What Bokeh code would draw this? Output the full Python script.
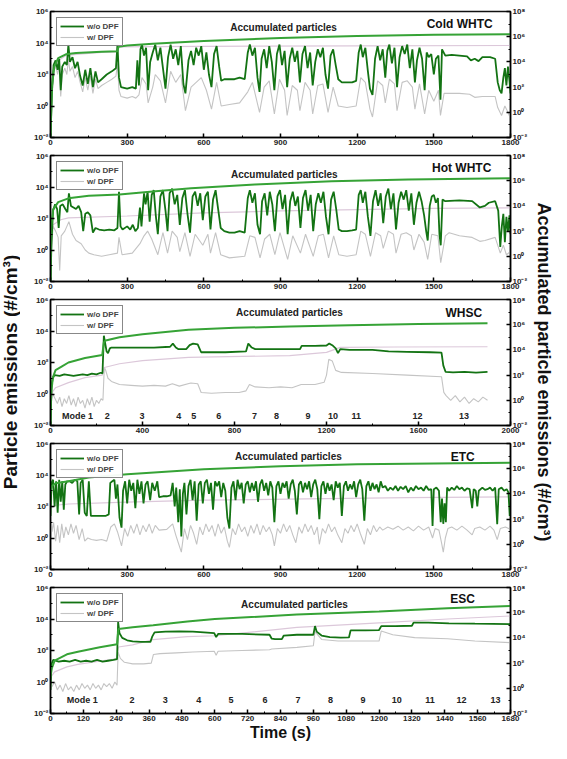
import math
import numpy as np
from bokeh.plotting import figure
from bokeh.models import (Range1d, LogScale, LogAxis, FixedTicker, Label, Legend,
                          LegendItem, CustomJSTickFormatter)
from bokeh.layouts import column, row
from bokeh.embed import file_html
from bokeh.resources import INLINE
from bokeh.core.properties import value

FONT = "Liberation Sans"

# ---------------- data: (time s, log10 of value) ----------------
# Cold WHTC
cold_wo = [(0,-2),(6,1.0),(12,2.6),(20,2.9),(28,2.3),(34,3.0),(40,1.0),(46,2.5),(56,2.8),(64,2.6),(70,3.9),(76,2.8),(86,3.1),(96,2.4),(106,2.8),(116,1.9),(126,1.3),(136,2.3),(146,1.4),(156,2.4),(166,1.2),(176,2.2),(186,1.5),(200,1.7),(220,2.0),(240,2.2),(256,2.4),(262,3.9),(268,1.8),(276,1.2),(300,1.1),(320,1.2),(334,1.1),(340,2.9),(346,1.3),(352,3.6),(358,3.9),(366,3.2),(374,3.7),(382,1.0),(390,2.8),(400,3.4),(410,3.9),(420,2.9),(430,3.7),(440,2.4),(450,1.1),(460,3.1),(470,3.9),(480,3.0),(490,3.6),(500,2.6),(510,3.8),(520,1.4),(528,0.8),(540,2.9),(550,3.5),(560,2.6),(570,3.7),(580,3.2),(590,3.8),(600,2.3),(610,3.4),(620,2.0),(630,1.2),(640,3.3),(650,3.8),(660,2.5),(668,1.6),(680,1.7),(700,1.7),(720,1.7),(740,1.8),(760,1.7),(772,3.4),(780,3.9),(790,3.2),(800,3.7),(810,1.8),(818,0.9),(826,3.0),(836,3.6),(846,2.4),(856,3.8),(866,2.8),(876,1.0),(886,3.3),(896,3.9),(906,2.6),(916,3.5),(926,1.2),(936,3.0),(946,3.7),(956,2.8),(966,3.5),(976,1.5),(986,3.3),(996,3.8),(1006,2.4),(1016,3.4),(1026,1.3),(1036,2.8),(1046,3.6),(1056,3.1),(1066,3.7),(1076,2.0),(1086,1.1),(1096,3.2),(1106,3.6),(1116,2.6),(1126,1.7),(1140,1.5),(1160,1.5),(1180,1.5),(1196,1.6),(1206,3.4),(1214,3.9),(1222,3.1),(1232,3.7),(1242,2.2),(1250,1.1),(1260,0.7),(1270,3.0),(1280,3.8),(1290,2.9),(1300,3.6),(1310,1.8),(1318,3.5),(1326,3.9),(1336,2.7),(1346,3.7),(1356,1.2),(1366,3.1),(1376,3.8),(1386,3.3),(1396,3.9),(1406,2.4),(1416,3.6),(1426,1.5),(1434,2.9),(1444,3.7),(1454,3.0),(1464,1.0),(1472,3.4),(1480,3.1),(1490,3.3),(1500,2.0),(1508,3.0),(1518,3.2),(1526,0.4),(1532,3.6),(1545,3.2),(1570,3.25),(1600,3.2),(1630,3.15),(1645,2.9),(1660,3.0),(1675,2.85),(1690,3.1),(1720,3.1),(1740,3.0),(1750,1.5),(1758,1.0),(1765,0.8),(1772,1.8),(1778,2.4),(1784,1.3),(1790,2.5),(1796,1.6),(1800,0.8)]
cold_w = [(0,-2),(6,0.5),(12,2.2),(20,2.6),(28,2.0),(34,2.6),(40,0.6),(46,2.0),(56,2.4),(64,2.0),(70,3.0),(76,2.2),(86,2.5),(96,1.8),(106,2.2),(116,1.5),(126,0.9),(136,1.8),(146,1.0),(156,1.9),(166,0.8),(176,1.7),(186,1.1),(200,1.3),(220,1.5),(240,1.7),(256,1.9),(262,2.7),(268,1.0),(276,0.6),(300,0.5),(320,0.6),(334,0.5),(346,0.7),(358,1.8),(374,1.4),(382,0.2),(400,1.2),(410,2.0),(430,1.6),(450,0.2),(470,2.2),(490,1.5),(510,2.0),(528,-0.3),(550,1.2),(570,1.5),(590,1.8),(610,1.0),(630,-0.2),(650,1.5),(668,0.0),(700,0.1),(740,0.2),(772,0.9),(790,1.5),(818,-0.4),(836,1.2),(856,1.6),(876,-0.5),(896,1.7),(916,1.0),(926,-0.6),(946,1.3),(966,1.0),(976,-0.3),(996,1.5),(1016,1.0),(1026,-0.5),(1046,1.3),(1066,1.4),(1086,-0.4),(1106,1.2),(1126,0.0),(1160,-0.1),(1196,0.0),(1214,1.8),(1232,1.5),(1250,-0.2),(1260,-0.7),(1280,1.6),(1300,1.3),(1310,0.2),(1326,1.7),(1346,1.4),(1356,-0.3),(1376,1.5),(1396,1.6),(1416,1.2),(1426,-0.2),(1444,1.4),(1464,-0.5),(1480,1.0),(1500,0.3),(1518,1.0),(1526,-0.6),(1540,0.8),(1600,0.8),(1640,0.75),(1660,0.55),(1690,0.6),(1740,0.6),(1750,-0.1),(1765,-0.6),(1778,0.0),(1790,-0.4),(1800,-0.8)]
cold_acc_wo = [(0,-2),(5,2.0),(15,3.6),(30,4.3),(60,4.6),(100,4.7),(200,4.8),(262,4.85),(266,5.2),(300,5.3),(400,5.45),(600,5.65),(900,5.9),(1200,6.05),(1500,6.15),(1800,6.2)]
cold_acc_w = [(0,-2),(5,1.8),(15,3.4),(30,4.1),(60,4.5),(100,4.6),(200,4.75),(262,4.8),(266,5.2),(400,5.22),(800,5.25),(1200,5.27),(1800,5.3)]

# Hot WHTC
hot_wo = [(0,-2),(4,0.5),(10,2.5),(18,2.9),(26,2.6),(32,1.4),(38,2.8),(48,2.9),(58,2.6),(66,2.4),(72,3.6),(80,2.8),(90,2.7),(100,2.6),(110,2.8),(120,2.4),(128,1.2),(136,2.3),(146,2.4),(156,2.2),(166,1.1),(176,1.4),(190,1.3),(210,1.25),(230,1.3),(250,1.25),(262,1.4),(268,3.7),(274,1.5),(282,1.3),(300,1.5),(312,1.3),(322,1.6),(332,1.2),(342,1.4),(350,2.7),(356,1.5),(366,3.6),(372,2.9),(380,3.7),(388,1.8),(396,3.5),(404,3.8),(412,2.2),(420,1.0),(430,3.4),(440,3.8),(450,2.5),(458,1.2),(466,3.6),(476,3.9),(486,2.9),(496,3.5),(506,1.6),(516,3.3),(526,3.8),(536,2.3),(546,1.1),(556,3.4),(566,3.7),(576,2.8),(586,3.6),(596,1.9),(606,3.4),(616,3.7),(626,1.3),(636,3.2),(646,3.8),(656,2.6),(666,1.4),(680,1.2),(700,1.1),(720,1.1),(740,1.2),(760,1.1),(772,3.3),(780,3.8),(790,3.0),(800,3.6),(810,1.6),(820,1.0),(828,3.1),(838,3.6),(848,2.2),(858,3.7),(868,2.9),(878,1.2),(888,3.4),(898,3.8),(908,2.6),(918,3.5),(928,1.0),(938,3.1),(948,3.7),(958,2.8),(968,3.4),(978,1.4),(988,3.3),(998,3.8),(1008,2.5),(1018,3.5),(1028,1.2),(1038,2.9),(1048,3.6),(1058,3.0),(1068,3.7),(1078,2.1),(1088,1.0),(1098,3.2),(1108,3.7),(1118,2.6),(1128,1.3),(1140,1.2),(1160,1.2),(1180,1.25),(1196,1.3),(1206,3.5),(1214,3.8),(1222,3.0),(1232,3.7),(1242,2.1),(1252,0.9),(1262,3.1),(1272,3.8),(1282,2.8),(1292,3.6),(1302,1.7),(1312,3.4),(1322,3.9),(1332,2.6),(1342,3.6),(1352,1.3),(1362,3.0),(1372,3.7),(1382,3.2),(1392,3.8),(1402,2.5),(1412,3.6),(1422,1.6),(1432,3.0),(1442,3.7),(1452,3.1),(1462,2.2),(1470,1.2),(1476,0.6),(1484,2.8),(1492,3.4),(1500,3.5),(1508,3.0),(1516,3.3),(1522,1.0),(1527,0.3),(1534,3.2),(1545,3.1),(1600,3.15),(1650,3.1),(1680,2.7),(1700,2.8),(1715,3.0),(1740,3.1),(1752,2.5),(1760,0.2),(1766,1.5),(1772,2.3),(1778,0.5),(1784,2.1),(1790,1.2),(1796,2.2),(1800,1.0)]
hot_w = [(0,-2),(4,0.0),(10,1.5),(20,1.2),(30,0.8),(36,-1.3),(42,0.9),(56,1.2),(72,1.8),(86,1.0),(100,0.6),(120,0.4),(136,0.0),(150,-0.2),(170,-0.3),(200,-0.4),(230,-0.3),(262,-0.2),(268,0.8),(280,-0.3),(320,-0.2),(350,0.4),(366,0.9),(380,1.2),(396,0.7),(420,-0.3),(440,1.1),(458,-0.2),(476,1.2),(496,0.8),(506,-0.1),(526,1.1),(546,-0.4),(566,1.0),(596,0.3),(616,1.0),(626,-0.2),(646,1.1),(666,-0.3),(700,-0.5),(760,-0.4),(780,0.9),(800,0.8),(820,-0.5),(838,0.7),(858,1.0),(878,-0.3),(898,1.1),(928,-0.6),(948,0.9),(978,-0.2),(998,1.0),(1028,-0.4),(1048,0.9),(1068,1.0),(1088,-0.5),(1108,0.9),(1128,-0.3),(1160,-0.4),(1196,-0.3),(1214,1.2),(1232,1.0),(1252,-0.4),(1272,1.1),(1292,0.9),(1302,0.1),(1322,1.2),(1342,1.0),(1352,-0.2),(1372,1.0),(1392,1.1),(1412,0.9),(1422,0.0),(1442,1.0),(1462,0.5),(1476,-0.6),(1492,1.0),(1516,0.9),(1527,-0.8),(1545,0.9),(1560,1.1),(1600,0.9),(1650,0.8),(1680,0.55),(1700,0.6),(1740,0.8),(1760,-0.2),(1772,0.3),(1784,-0.3),(1800,-0.1)]
hot_acc_wo = [(0,-2),(3,2.3),(10,3.7),(30,4.3),(70,4.6),(150,4.8),(270,4.9),(400,5.15),(550,5.4),(800,5.7),(1100,5.95),(1400,6.1),(1800,6.2)]
hot_acc_w = [(0,-2),(3,1.5),(10,2.5),(40,2.9),(70,3.05),(300,3.2),(600,3.45),(900,3.6),(1200,3.7),(1500,3.8),(1800,3.85)]

# WHSC
whsc_wo = [(0,-2),(4,0.5),(10,1.0),(17,1.2),(40,1.15),(60,1.25),(80,1.2),(100,1.15),(120,1.2),(140,1.25),(160,1.2),(180,1.3),(200,1.25),(218,1.35),(226,1.3),(232,3.7),(238,3.2),(244,2.7),(250,2.6),(258,2.9),(265,2.95),(350,2.95),(450,2.95),(520,3.0),(532,3.2),(545,2.95),(555,2.85),(590,2.85),(605,3.1),(620,3.2),(640,3.15),(655,2.65),(760,2.65),(850,2.7),(860,3.2),(875,2.95),(890,2.85),(1000,2.85),(1085,2.85),(1092,3.05),(1150,3.05),(1200,3.08),(1212,3.2),(1225,3.1),(1240,2.9),(1250,2.6),(1260,2.85),(1300,2.8),(1400,2.8),(1470,2.7),(1550,2.68),(1650,2.65),(1700,2.63),(1708,1.8),(1718,1.4),(1750,1.37),(1800,1.4),(1850,1.36),(1900,1.4)]
whsc_w = [(0,-2),(4,-0.5),(10,0.0),(20,-0.3),(30,-0.6),(40,-0.2),(50,-0.8),(60,-0.3),(70,-0.6),(80,-0.1),(90,-0.7),(100,-0.3),(110,-0.8),(120,-0.2),(130,-0.6),(140,-0.4),(150,-0.9),(160,-0.3),(170,-0.7),(180,-0.2),(190,-0.8),(200,-0.4),(210,-0.6),(220,-0.3),(228,-0.4),(234,1.7),(240,1.5),(250,1.0),(265,0.8),(300,0.6),(350,0.55),(400,0.5),(450,0.55),(500,0.5),(530,0.65),(560,0.5),(610,0.7),(640,0.65),(655,0.1),(700,0.05),(760,0.1),(820,0.1),(850,0.2),(865,0.6),(890,0.45),(950,0.4),(1000,0.45),(1050,0.4),(1090,0.6),(1150,0.6),(1190,0.75),(1200,1.2),(1210,2.2),(1225,2.1),(1240,1.5),(1265,1.37),(1400,1.3),(1550,1.2),(1700,1.1),(1710,0.1),(1720,-0.1),(1740,-0.4),(1760,-0.1),(1780,-0.5),(1800,-0.2),(1820,-0.6),(1840,-0.3),(1860,-0.5),(1880,-0.2),(1900,-0.4)]
whsc_acc_wo = [(0,-2),(3,0.5),(10,1.8),(22,2.4),(50,2.7),(78,3.0),(150,3.35),(225,3.6),(232,4.6),(240,4.75),(300,5.0),(400,5.25),(600,5.6),(800,5.75),(1040,5.85),(1300,5.95),(1600,6.05),(1900,6.12)]
whsc_acc_w = [(0,-2),(3,0.0),(10,0.7),(22,1.0),(78,1.4),(150,1.8),(225,2.0),(234,2.6),(300,2.9),(400,3.15),(600,3.4),(1040,3.55),(1200,3.8),(1260,4.2),(1500,4.23),(1900,4.25)]
whsc_mode_t = [117, 247, 398, 558, 623, 732, 887, 983, 1120, 1228, 1329, 1596, 1798]
whsc_mode_lbl = ["Mode 1", "2", "3", "4", "5", "6", "7", "8", "9", "10", "11", "12", "13"]

# ETC
etc_wo = [(0,1.4),(4,3.5),(10,3.7),(16,2.0),(22,3.6),(28,1.6),(34,3.7),(40,2.3),(46,3.6),(52,1.8),(58,3.4),(65,3.6),(75,3.6),(85,3.5),(95,3.7),(105,3.6),(112,1.5),(118,3.5),(126,3.7),(134,1.6),(142,1.4),(150,3.6),(158,1.4),(170,1.4),(185,1.4),(200,1.4),(215,1.4),(228,1.5),(234,3.5),(242,3.6),(250,3.7),(256,2.5),(262,3.4),(270,1.3),(278,0.66),(284,3.0),(292,3.6),(300,2.2),(308,3.7),(316,3.0),(324,3.5),(332,1.9),(340,3.7),(348,2.8),(356,3.6),(364,2.2),(372,3.4),(380,3.6),(390,2.4),(398,3.5),(408,3.0),(418,3.6),(425,2.6),(440,2.65),(455,2.65),(470,2.7),(478,3.5),(486,2.0),(492,3.2),(500,1.0),(506,3.1),(512,0.1),(518,2.8),(524,3.5),(532,1.5),(540,3.3),(548,3.7),(556,2.4),(564,3.6),(572,1.1),(580,3.4),(588,3.6),(596,2.2),(604,3.5),(612,3.7),(620,2.8),(628,3.5),(636,1.8),(644,3.6),(652,3.3),(660,3.6),(668,2.6),(676,3.5),(684,3.0),(692,1.3),(700,0.6),(708,3.2),(716,3.6),(724,2.4),(732,3.7),(740,3.1),(748,3.5),(756,2.2),(764,3.4),(772,3.6),(780,2.9),(788,3.5),(796,3.0),(804,3.6),(812,2.3),(820,3.4),(828,3.7),(836,3.0),(844,3.5),(852,2.7),(860,3.6),(868,3.2),(876,1.0),(884,3.3),(892,3.6),(900,2.8),(908,3.5),(916,3.2),(924,3.6),(932,2.5),(940,3.4),(948,3.7),(956,3.0),(964,1.5),(972,3.4),(980,3.6),(988,2.9),(996,3.5),(1004,3.1),(1012,3.6),(1020,2.6),(1028,3.4),(1036,3.7),(1044,3.1),(1052,1.2),(1060,3.3),(1068,3.6),(1076,2.8),(1084,3.5),(1092,3.0),(1100,3.4),(1108,2.4),(1116,3.6),(1124,3.2),(1132,3.5),(1140,1.4),(1148,3.3),(1156,3.6),(1164,3.0),(1172,3.4),(1180,3.1),(1188,3.6),(1196,2.6),(1204,3.4),(1212,3.7),(1220,3.1),(1228,1.1),(1236,3.3),(1244,3.6),(1252,3.0),(1260,3.5),(1268,3.1),(1276,3.4),(1284,2.9),(1292,3.6),(1300,3.2),(1310,3.3),(1320,3.0),(1330,3.2),(1340,3.05),(1350,3.3),(1360,3.0),(1370,3.25),(1380,3.1),(1390,3.3),(1400,2.9),(1410,3.2),(1420,3.0),(1430,3.3),(1440,3.1),(1450,3.2),(1460,3.0),(1470,3.3),(1480,3.05),(1490,3.1),(1495,0.77),(1500,3.1),(1510,3.2),(1520,3.0),(1527,1.0),(1532,2.5),(1537,0.9),(1542,2.2),(1547,1.0),(1552,3.2),(1560,3.0),(1570,3.2),(1580,3.05),(1590,3.3),(1600,3.1),(1610,3.2),(1620,3.0),(1630,3.15),(1640,3.1),(1650,1.9),(1656,3.1),(1664,3.0),(1670,2.0),(1676,3.0),(1690,3.2),(1700,3.05),(1710,3.1),(1720,3.2),(1730,3.0),(1740,3.2),(1748,0.87),(1754,3.1),(1765,3.2),(1775,3.0),(1785,3.1),(1792,2.9),(1797,1.4),(1800,2.0)]
etc_w = [(0,1.8),(6,0.4),(12,1.0),(20,-0.2),(28,0.8),(36,-0.3),(44,0.9),(52,0.0),(60,0.7),(70,0.2),(80,0.9),(90,0.3),(100,0.8),(112,-0.1),(124,0.6),(134,-0.2),(146,0.0),(160,-0.1),(180,-0.15),(200,-0.1),(220,-0.2),(236,0.7),(250,0.9),(262,0.4),(278,-0.5),(290,0.6),(302,0.1),(314,0.8),(326,0.3),(338,0.9),(350,0.2),(362,0.8),(374,0.4),(386,0.9),(398,0.3),(410,0.8),(425,0.5),(455,0.55),(478,0.9),(490,0.2),(500,-0.3),(512,-0.9),(524,0.6),(536,-0.1),(548,0.8),(560,0.3),(572,-0.4),(584,0.7),(596,0.2),(608,0.9),(620,0.4),(632,0.8),(644,0.1),(656,0.9),(668,0.3),(680,0.7),(692,-0.2),(700,-0.6),(712,0.6),(724,0.2),(736,0.9),(748,0.4),(760,0.7),(772,0.1),(784,0.8),(796,0.3),(808,0.9),(820,0.2),(832,0.8),(844,0.4),(856,0.7),(868,0.2),(876,-0.5),(888,0.6),(900,0.3),(912,0.9),(924,0.4),(936,0.8),(948,0.2),(960,-0.3),(972,0.7),(984,0.3),(996,0.9),(1008,0.4),(1020,0.8),(1032,0.2),(1044,0.7),(1052,-0.4),(1064,0.6),(1076,0.3),(1088,0.9),(1100,0.4),(1112,0.7),(1124,0.2),(1140,-0.3),(1152,0.6),(1164,0.3),(1176,0.8),(1188,0.4),(1200,0.9),(1212,0.3),(1228,-0.4),(1240,0.6),(1252,0.2),(1264,0.8),(1276,0.4),(1288,0.7),(1300,0.5),(1320,0.7),(1340,0.55),(1360,0.75),(1380,0.5),(1400,0.7),(1420,0.45),(1440,0.75),(1460,0.5),(1480,0.7),(1495,0.0),(1505,0.6),(1520,0.5),(1530,-0.3),(1537,-0.9),(1545,0.0),(1555,0.6),(1570,0.7),(1590,0.5),(1610,0.75),(1630,0.5),(1650,0.2),(1660,0.6),(1680,0.7),(1700,0.5),(1720,0.75),(1735,0.5),(1748,-0.1),(1760,0.6),(1780,0.7),(1800,0.55)]
etc_acc_wo = [(0,4.2),(5,4.6),(20,4.85),(70,5.0),(150,5.3),(300,5.56),(600,5.95),(900,6.2),(1200,6.35),(1500,6.42),(1800,6.47)]
etc_acc_w = [(0,2.6),(5,2.9),(20,3.1),(70,3.2),(300,3.35),(600,3.5),(1000,3.6),(1400,3.7),(1800,3.77)]

# ESC
esc_wo = [(0,-0.5),(3,1.1),(10,1.4),(30,1.3),(50,1.35),(70,1.3),(90,1.4),(110,1.3),(130,1.35),(150,1.3),(170,1.4),(190,1.3),(210,1.35),(230,1.4),(243,1.45),(247,3.8),(252,3.1),(262,2.8),(280,2.65),(300,2.58),(330,2.55),(365,2.55),(372,2.9),(380,3.15),(420,3.2),(470,3.22),(520,3.2),(560,3.15),(598,3.1),(605,2.85),(612,3.05),(700,3.05),(800,3.0),(808,2.75),(820,2.72),(845,2.72),(852,2.95),(900,3.0),(960,3.0),(966,3.55),(972,3.2),(990,2.95),(1020,2.85),(1060,2.82),(1090,2.83),(1096,3.28),(1150,3.28),(1200,3.3),(1208,3.55),(1260,3.55),(1320,3.57),(1326,3.77),(1380,3.77),(1455,3.72),(1550,3.7),(1680,3.68)]
esc_w = [(0,0.3),(5,-0.3),(15,0.0),(25,-0.5),(35,-0.2),(45,-0.6),(55,-0.1),(65,-0.5),(75,-0.3),(85,-0.6),(95,-0.2),(105,-0.5),(115,-0.1),(125,-0.4),(135,-0.2),(145,-0.5),(155,-0.1),(165,-0.4),(175,-0.2),(185,-0.5),(195,-0.1),(205,-0.3),(215,-0.1),(225,-0.4),(235,0.0),(243,-0.2),(247,1.9),(255,1.5),(270,1.25),(300,1.15),(340,1.15),(368,1.2),(376,1.75),(400,1.8),(460,1.85),(520,1.9),(598,1.95),(605,1.7),(612,1.95),(700,2.0),(800,2.05),(808,2.1),(900,2.2),(960,2.3),(966,3.2),(990,2.7),(1050,2.6),(1200,2.6),(1208,3.24),(1250,3.0),(1330,2.82),(1450,2.75),(1550,2.6),(1680,2.5)]
esc_acc_wo = [(0,0.9),(5,1.6),(15,2.2),(60,2.7),(100,2.9),(180,3.25),(243,3.5),(248,4.7),(300,4.85),(375,5.0),(500,5.3),(600,5.5),(900,5.85),(1200,6.1),(1450,6.35),(1680,6.53)]
esc_acc_w = [(0,0.9),(5,1.0),(15,1.3),(60,1.7),(100,1.9),(180,2.15),(243,2.33),(248,3.28),(300,3.45),(375,3.87),(500,4.1),(600,4.17),(900,4.83),(1200,5.2),(1450,5.5),(1680,5.74)]
esc_mode_t = [116, 298, 419, 541, 659, 783, 904, 1023, 1141, 1265, 1386, 1501, 1625]
esc_mode_lbl = ["Mode 1", "2", "3", "4", "5", "6", "7", "8", "9", "10", "11", "12", "13"]

# ---------------- helpers ----------------
SUP_JS = """
const s = {"-":"\u207b","0":"\u2070","1":"\u00b9","2":"\u00b2","3":"\u00b3","4":"\u2074","5":"\u2075","6":"\u2076","7":"\u2077","8":"\u2078","9":"\u2079"};
const e = Math.round(Math.log10(tick));
return "10" + String(e).split("").map(c => s[c]).join("");
"""

C_WO = "#137313"
C_W = "#c4c4c4"
C_ACC_WO = "#36a336"
C_ACC_W = "#dcc8da"
TOTAL_H = 743


def xy(pairs):
    return [p[0] for p in pairs], [10 ** p[1] for p in pairs]


def style_axis(ax):
    ax.major_label_text_font = FONT
    ax.major_label_text_font_size = "8px"
    ax.major_label_text_font_style = "bold"
    ax.major_label_text_color = "#222222"
    ax.major_tick_in = 4
    ax.major_tick_out = 0
    ax.minor_tick_in = 2
    ax.minor_tick_out = 0
    ax.axis_line_width = 1.5
    ax.major_tick_line_width = 1.5
    ax.minor_tick_line_width = 1
    ax.major_label_standoff = 2
    ax.axis_label_text_font = FONT
    ax.axis_label_text_font_style = "bold"
    ax.axis_label_text_color = "#111111"


def panel(height, top, bottom, xmax, xt, xmin_t, wo, w, acc_wo, acc_w, title, title_pos,
          acc_pos, modes=None, xlabel=None):
    p = figure(width=510, height=height, x_range=Range1d(0, xmax), y_range=Range1d(1e-2, 1e6),
               y_axis_type="log", output_backend="svg", toolbar_location=None, title=None,
               min_border_left=30, min_border_right=18, min_border_top=top,
               min_border_bottom=bottom)
    p.extra_y_ranges = {"acc": Range1d(1e-2, 1e8)}
    p.extra_y_scales = {"acc": LogScale()}
    p.xgrid.visible = False
    p.ygrid.visible = False
    p.outline_line_color = "#111111"
    p.outline_line_width = 1.5

    p.yaxis[0].ticker = FixedTicker(ticks=[1e-2, 1, 1e2, 1e4, 1e6], minor_ticks=[1e-1, 10, 1e3, 1e5])
    p.yaxis[0].formatter = CustomJSTickFormatter(code=SUP_JS)
    p.xaxis[0].ticker = FixedTicker(ticks=xt, minor_ticks=xmin_t)
    style_axis(p.yaxis[0])
    style_axis(p.xaxis[0])

    ra = LogAxis(y_range_name="acc",
                 ticker=FixedTicker(ticks=[1e-2, 1, 1e2, 1e4, 1e6, 1e8],
                                    minor_ticks=[1e-1, 10, 1e3, 1e5, 1e7]),
                 formatter=CustomJSTickFormatter(code=SUP_JS))
    style_axis(ra)
    p.add_layout(ra, "right")

    if xlabel:
        p.xaxis[0].axis_label = xlabel
        p.xaxis[0].axis_label_text_font_size = "16px"
        p.xaxis[0].axis_label_standoff = 0

    tw, yw = xy(w)
    two, ywo = xy(wo)
    taw, yaw = xy(acc_w)
    tawo, yawo = xy(acc_wo)
    r_w = p.line(tw, yw, line_color=C_W, line_width=1.1)
    p.line(taw, yaw, line_color=C_ACC_W, line_width=1.2, y_range_name="acc")
    r_wo = p.line(two, ywo, line_color=C_WO, line_width=1.8)
    p.line(tawo, yawo, line_color=C_ACC_WO, line_width=2, y_range_name="acc")

    leg = Legend(items=[LegendItem(label="w/o DPF", renderers=[r_wo]),
                        LegendItem(label="w/ DPF", renderers=[r_w])],
                 location="top_left")
    leg.label_text_font = FONT
    leg.label_text_font_size = "8px"
    leg.label_text_font_style = "bold"
    leg.glyph_width = 24
    leg.glyph_height = 10
    leg.label_height = 10
    leg.label_standoff = 3
    leg.spacing = 1
    leg.padding = 3
    leg.margin = 6
    leg.border_line_color = "#111111"
    leg.border_line_width = 1.5
    p.add_layout(leg)

    p.add_layout(Label(x=title_pos[0], y=10 ** title_pos[1], text=title, text_align="center",
                       text_baseline="middle", text_font=FONT, text_font_size="12px",
                       text_font_style="bold", text_color="#111111"))
    p.add_layout(Label(x=acc_pos[0], y=10 ** acc_pos[1], text="Accumulated particles",
                       text_align="center", text_baseline="middle", text_font=FONT,
                       text_font_size="10px", text_font_style="bold", text_color="#222222"))
    if modes:
        mt, ml, my = modes
        p.text(x=mt, y=[10 ** my] * len(mt), text=ml, text_align="center",
               text_baseline="middle", text_font=value(FONT), text_font_size=value("9px"),
               text_font_style="bold", text_color="#222222")
    return p


def side_title(width, text, angle, size):
    f = figure(width=width, height=TOTAL_H, x_range=Range1d(0, 1), y_range=Range1d(0, 1),
               x_axis_location=None, y_axis_location=None, output_backend="svg",
               toolbar_location=None, title=None, min_border=0)
    f.xgrid.visible = False
    f.ygrid.visible = False
    f.outline_line_color = None
    f.add_layout(Label(x=0.5, y=0.5, text=text, angle=angle, text_align="center",
                       text_baseline="middle", text_font=FONT, text_font_size=size,
                       text_font_style="bold", text_color="#111111"))
    return f


x1800 = [0, 300, 600, 900, 1200, 1500, 1800]
x1800m = [150, 450, 750, 1050, 1350, 1650]
x2000 = [0, 400, 800, 1200, 1600, 2000]
x2000m = [200, 600, 1000, 1400, 1800]
x1680 = list(range(0, 1681, 120))
x1680m = list(range(60, 1681, 120))

p1 = panel(151, 11, 14, 1800, x1800, x1800m, cold_wo, cold_w, cold_acc_wo, cold_acc_w,
           "Cold WHTC", (1601, 5.23), (912, 4.98))
p2 = panel(144, 4, 14, 1800, x1800, x1800m, hot_wo, hot_w, hot_acc_wo, hot_acc_w,
           "Hot WHTC", (1609, 5.19), (915, 4.81))
p3 = panel(144, 4, 14, 2000, x2000, x2000m, whsc_wo, whsc_w, whsc_acc_wo, whsc_acc_w,
           "WHSC", (1797, 5.17), (1039, 5.17), modes=(whsc_mode_t, whsc_mode_lbl, -1.37))
p4 = panel(144, 4, 14, 1800, x1800, x1800m, etc_wo, etc_w, etc_acc_wo, etc_acc_w,
           "ETC", (1613, 5.17), (931, 5.17))
p5 = panel(160, 4, 30, 1680, x1680, x1680m, esc_wo, esc_w, esc_acc_wo, esc_acc_w,
           "ESC", (1505, 5.3), (891, 4.9), modes=(esc_mode_t, esc_mode_lbl, -1.16),
           xlabel="Time (s)")

left_t = side_title(20, "Particle emissions (#/cm\u00b3)", math.pi / 2, "19px")
right_t = side_title(26, "Accumulated particle emissions (#/cm\u00b3)", -math.pi / 2, "18px")

layout = row(left_t, column(p1, p2, p3, p4, p5, spacing=0), right_t, spacing=0)
open("out.html", "w").write(file_html(layout, INLINE))
